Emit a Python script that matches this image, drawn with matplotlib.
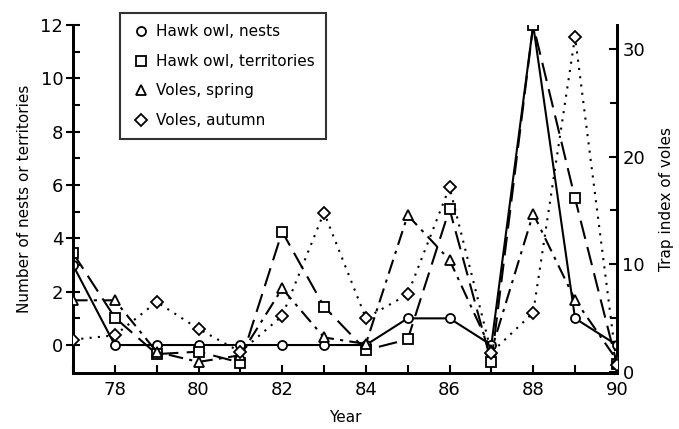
import numpy as np
import matplotlib.pyplot as plt
from matplotlib.lines import Line2D

# Data
years = [77, 78, 79, 80, 81, 82, 83, 84, 85, 86, 87, 88, 89, 90]
nests = [3.0, 0, 0, 0, 0, 0, 0, 0, 1.0, 1.0, 0, 12, 1.0, 0]
territories = [3.45, 1.03, -0.34, -0.25, -0.66, 4.25, 1.44, -0.19, 0.21, 5.1, -0.65, 12, 5.5, -0.7]
voles_spring = [6.65, 6.65, 1.86, 0.93, 1.55, 7.75, 3.2, 2.6, 14.55, 10.4, 2.0, 14.7, 6.7, 1.1]
voles_autumn = [3.0, 3.4, 6.5, 4.0, 1.86, 5.2, 14.8, 5.0, 7.2, 17.15, 1.8, 5.5, 31.1, 0.6]

plt.rcParams['font.family'] = 'DejaVu Sans'

fig = plt.figure(figsize=(6.79, 4.29), dpi=100)
ax = fig.add_axes([0.1075, 0.1305, 0.801, 0.811])
ax2 = ax.twinx()

mk = dict(markerfacecolor='white', markeredgecolor='black', markeredgewidth=1.3,
          color='black', markersize=6.5, linewidth=1.5)

ax.plot(years, nests, marker='o', linestyle='-', zorder=3, **mk)
ax.plot(years, territories, marker='s', linestyle=(0, (9, 4)), zorder=3, **mk)
ax2.plot(years, voles_spring, marker='^', linestyle=(0, (7, 3, 1.5, 3)), zorder=3, **mk)
ax2.plot(years, voles_autumn, marker='D', linestyle=(0, (1, 3)), zorder=3, **{**mk, 'markersize': 6})

ax.set_xlim(77, 90)
ax.set_ylim(-1.05, 12)
ax2.set_ylim(-0.1, 32.2)

ax.set_xticks(np.arange(78, 91, 2))
ax.set_xticks(np.arange(77, 91, 1), minor=True)
ax.set_yticks(np.arange(0, 13, 2))
ax.set_yticks(np.arange(1, 12, 2), minor=True)
ax2.set_yticks([0, 10, 20, 30])
ax2.set_yticks([5, 15, 25], minor=True)

for a in (ax, ax2):
    a.spines['top'].set_visible(False)
    for s in ('left', 'right', 'bottom'):
        a.spines[s].set_linewidth(2)

ax.tick_params(axis='x', which='both', direction='in', length=6, width=1.5,
               labelsize=13, pad=6)
ax.tick_params(axis='y', which='major', direction='inout', length=10, width=1.5,
               labelsize=13, pad=2)
ax.tick_params(axis='y', which='minor', direction='in', length=5, width=1.5)
ax2.tick_params(axis='y', which='major', direction='in', length=6, width=1.5,
                labelsize=13, pad=4)
ax2.tick_params(axis='y', which='minor', direction='in', length=5, width=1.5)

ax.set_xlabel('Year', fontsize=11, labelpad=8)
ax.set_ylabel('Number of nests or territories', fontsize=11, labelpad=6)
ax2.set_ylabel('Trap index of voles', fontsize=11, labelpad=10)

handles = [Line2D([], [], linestyle='none', marker=m, markerfacecolor='white',
                  markeredgecolor='black', markeredgewidth=1.3, markersize=6.5)
           for m in ['o', 's', '^', 'D']]
labels = ['Hawk owl, nests', 'Hawk owl, territories', 'Voles, spring', 'Voles, autumn']
leg = ax.legend(handles, labels, loc='upper left', bbox_to_anchor=(120 / 679, 1 - 13 / 429),
                bbox_transform=fig.transFigure, fontsize=11, frameon=True, fancybox=False,
                edgecolor='black', handletextpad=0.4, handlelength=1.2, labelspacing=0.95,
                borderpad=0.75, borderaxespad=0)
leg.get_frame().set_linewidth(1.5)
leg.set_zorder(5)

fig.savefig('out.png', dpi=100)
